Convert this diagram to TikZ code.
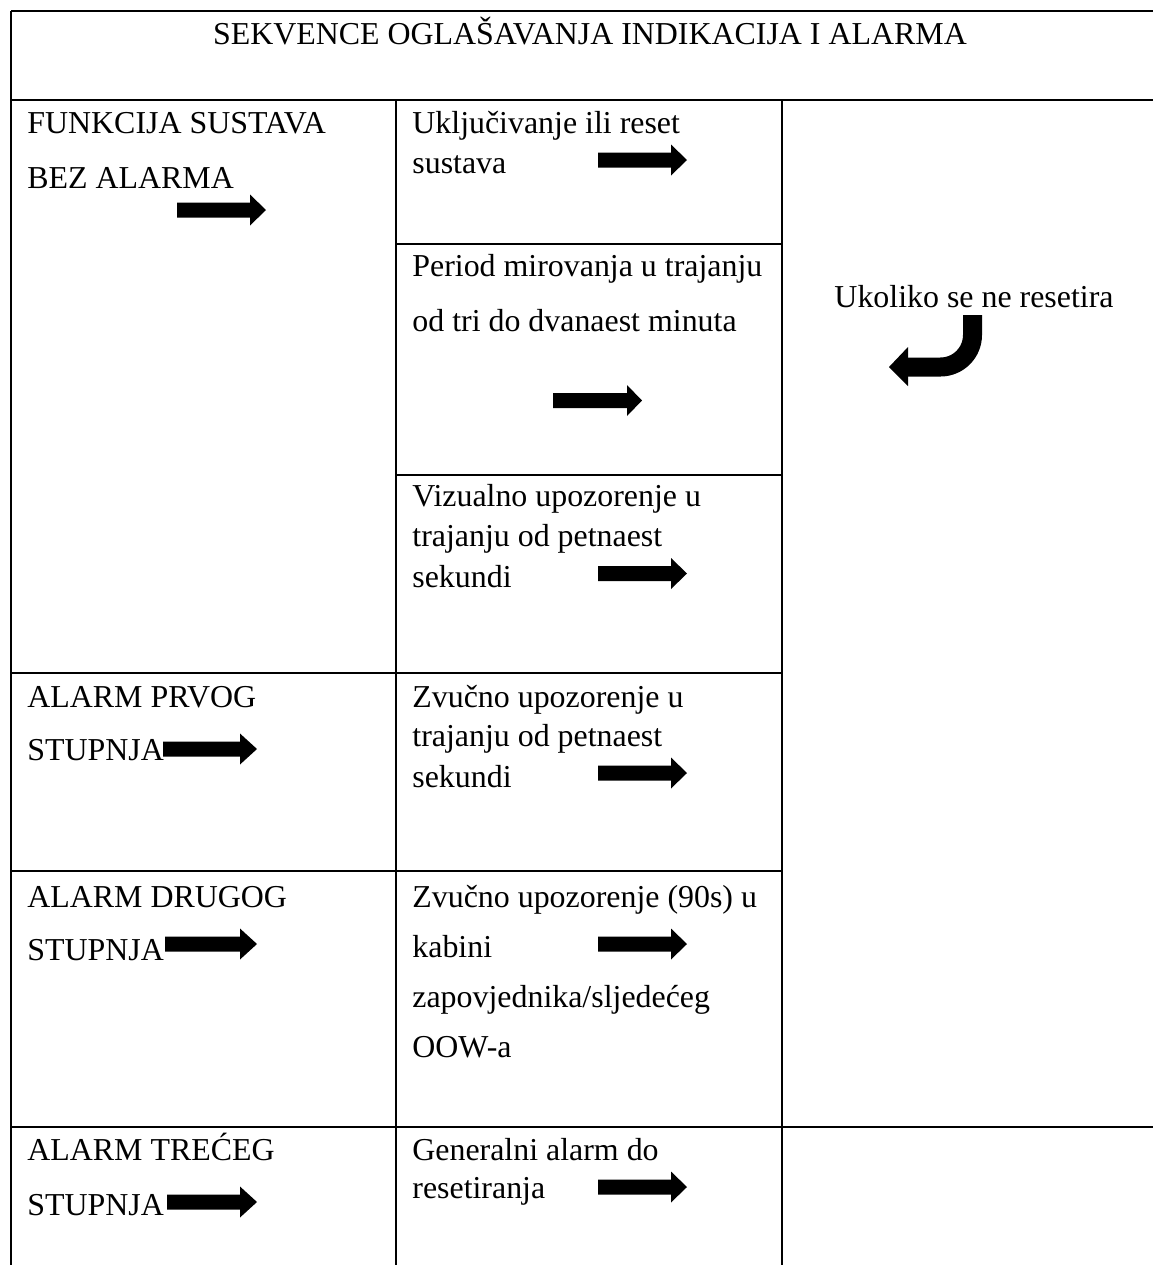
\documentclass[tikz,border=0pt]{standalone}
\usepackage{fontspec}
\setmainfont{Liberation Serif}
\begin{document}
\begin{tikzpicture}[x=0.5pt,y=-0.5pt,
  grid/.style={line width=0.8pt,black},
  txt/.style={anchor=base west,inner sep=0pt,font=\fontsize{15.95}{18}\selectfont},
  ctxt/.style={anchor=base,inner sep=0pt,font=\fontsize{15.95}{18}\selectfont}]
\newcommand\blockarrow[4]{%
  \fill[black] (#1,{#4-7.5}) -- (#2,{#4-7.5}) -- (#2,{#4-15.5}) -- (#3,#4) -- (#2,{#4+15.5}) -- (#2,{#4+7.5}) -- (#1,{#4+7.5}) -- cycle;}
\useasboundingbox (0,0) rectangle (1153,1265);
% grid
\draw[grid] (11,11) -- (1153,11);
\draw[grid] (11,11) -- (11,1265);
\draw[grid] (11,100) -- (1153,100);
\draw[grid] (396,100) -- (396,1265);
\draw[grid] (782,100) -- (782,1265);
\draw[grid] (396,244) -- (782,244);
\draw[grid] (396,475) -- (782,475);
\draw[grid] (11,673) -- (782,673);
\draw[grid] (11,871) -- (782,871);
\draw[grid] (11,1127) -- (1153,1127);
% title
\node[ctxt] (title) at (590,44) {SEKVENCE OGLAŠAVANJA INDIKACIJA I ALARMA};
% column 1
\node[txt] (f1) at (27,133) {FUNKCIJA SUSTAVA};
\node[txt] (f2) at (27,188) {BEZ ALARMA};
\node[txt] (p1) at (27,707) {ALARM PRVOG};
\node[txt] (p2) at (27,760) {STUPNJA};
\node[txt] (d1) at (27,907) {ALARM DRUGOG};
\node[txt] (d2) at (27,960) {STUPNJA};
\node[txt] (t1) at (27,1160) {ALARM TREĆEG};
\node[txt] (t2) at (27,1215) {STUPNJA};
% column 2
\node[txt] (u1) at (412,133) {Uključivanje ili reset};
\node[txt] (u2) at (412,173) {sustava};
\node[txt] (m1) at (412,276) {Period mirovanja u trajanju};
\node[txt] (m2) at (412,331) {od tri do dvanaest minuta};
\node[txt] (v1) at (412,506) {Vizualno upozorenje u};
\node[txt] (v2) at (412,546) {trajanju od petnaest};
\node[txt] (v3) at (412,587) {sekundi};
\node[txt] (z1) at (412,707) {Zvučno upozorenje u};
\node[txt] (z2) at (412,746) {trajanju od petnaest};
\node[txt] (z3) at (412,787) {sekundi};
\node[txt] (n1) at (412,907) {Zvučno upozorenje (90s) u};
\node[txt] (n2) at (412,957) {kabini};
\node[txt] (n3) at (412,1007) {zapovjednika/sljedećeg};
\node[txt] (n4) at (412,1057) {OOW-a};
\node[txt] (g1) at (412,1160) {Generalni alarm do};
\node[txt] (g2) at (412,1198) {resetiranja};
% column 3
\node[ctxt] (r1) at (974,307) {Ukoliko se ne resetira};
% block arrows
\blockarrow{177}{250}{266}{210}
\blockarrow{598}{671}{687}{160}
\blockarrow{553}{627}{642}{400.5}
\blockarrow{598}{671}{687}{573.5}
\blockarrow{163}{240}{257}{749}
\blockarrow{598}{671}{687}{773}
\blockarrow{165}{240}{257}{944}
\blockarrow{598}{671}{687}{944}
\blockarrow{167}{240}{257}{1202}
\blockarrow{598}{671}{687}{1187}
% curved return arrow
\draw[line width=9.5pt,rounded corners=16pt] (972.5,315) -- (972.5,367) -- (905,367);
\fill[black] (908,347) -- (889,367) -- (908,386) -- cycle;
\end{tikzpicture}
\end{document}
